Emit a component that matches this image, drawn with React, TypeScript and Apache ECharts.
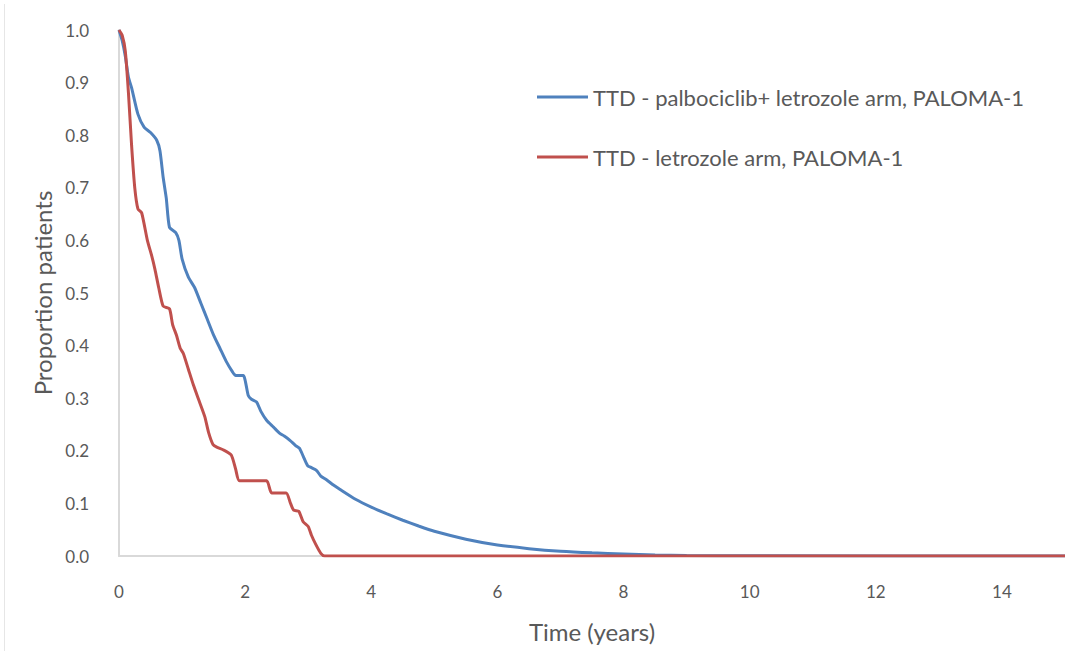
import React, { useEffect, useRef } from "react";
import * as echarts from "echarts";

const seriesNames = [
  "TTD - palbociclib+ letrozole arm, PALOMA-1",
  "TTD - letrozole arm, PALOMA-1",
];

// [time (years), proportion]
const palbociclibArm: [number, number][] = [
  [0, 1.0], [0.05, 0.98], [0.1, 0.95], [0.15, 0.91], [0.2, 0.89], [0.3, 0.84],
  [0.4, 0.815], [0.5, 0.805], [0.6, 0.79], [0.65, 0.77], [0.7, 0.72], [0.75, 0.68],
  [0.8, 0.625], [0.9, 0.615], [0.95, 0.6], [1.0, 0.565], [1.1, 0.53], [1.2, 0.51],
  [1.3, 0.48], [1.4, 0.45], [1.5, 0.42], [1.6, 0.395], [1.7, 0.37], [1.8, 0.35],
  [1.85, 0.343], [1.97, 0.343], [2.05, 0.305], [2.1, 0.298], [2.18, 0.293],
  [2.25, 0.275], [2.34, 0.258], [2.45, 0.245], [2.55, 0.233], [2.62, 0.228],
  [2.71, 0.22], [2.8, 0.21], [2.86, 0.205], [2.92, 0.19], [2.99, 0.172],
  [3.05, 0.168], [3.13, 0.163], [3.2, 0.152], [3.29, 0.145], [3.4, 0.135],
  [3.5, 0.127], [3.75, 0.108], [4.0, 0.093], [4.25, 0.08], [4.5, 0.068],
  [4.75, 0.057], [5.0, 0.047], [5.5, 0.032], [6.0, 0.021], [6.5, 0.014],
  [7.0, 0.009], [7.5, 0.006], [8.0, 0.004], [8.5, 0.002], [9.0, 0.001],
  [10.0, 0.0005], [15.0, 0],
];

const letrozoleArm: [number, number][] = [
  [0, 1.0], [0.05, 0.99], [0.1, 0.96], [0.15, 0.88], [0.2, 0.78], [0.25, 0.7],
  [0.3, 0.66], [0.36, 0.652], [0.45, 0.6], [0.52, 0.57], [0.57, 0.545],
  [0.63, 0.51], [0.7, 0.475], [0.8, 0.47], [0.85, 0.44], [0.91, 0.42],
  [0.97, 0.395], [1.02, 0.385], [1.1, 0.355], [1.18, 0.325], [1.27, 0.295],
  [1.36, 0.265], [1.42, 0.235], [1.49, 0.212], [1.55, 0.207], [1.65, 0.202],
  [1.78, 0.192], [1.85, 0.165], [1.91, 0.143], [2.34, 0.143], [2.42, 0.12],
  [2.65, 0.12], [2.72, 0.1], [2.77, 0.087], [2.85, 0.085], [2.92, 0.065],
  [3.0, 0.056], [3.05, 0.04], [3.12, 0.022], [3.2, 0.005], [3.26, 0.0], [15.0, 0],
];

const xMin = 0;
const xMax = 15;
const xInterval = 2;
const yMin = 0;
const yMax = 1;
const yInterval = 0.1;

const xAxisName = "Time (years)";
const yAxisName = "Proportion patients";

const FONT = "Lato, 'Noto Sans', sans-serif";
const TEXT_COLOR = "#595959";
const AXIS_COLOR = "#d9d9d9";
const COLORS = ["#4f81bd", "#c0504d"];

export default function App() {
  const ref = useRef<HTMLDivElement>(null);

  useEffect(() => {
    document.body.style.margin = "0";
    if (!ref.current) return;
    const chart = echarts.init(ref.current, null, { renderer: "svg" });
    chart.setOption({
      animation: false,
      backgroundColor: "#ffffff",
      grid: { left: 119, right: 0, top: 30, bottom: 95, containLabel: false },
      legend: {
        orient: "vertical",
        left: 537,
        top: 86,
        padding: 0,
        icon: "rect",
        itemWidth: 51,
        itemHeight: 3,
        itemGap: 38,
        data: seriesNames,
        textStyle: { fontFamily: FONT, fontSize: 22, color: TEXT_COLOR, lineHeight: 22 },
      },
      xAxis: {
        type: "value",
        min: xMin,
        max: xMax,
        interval: xInterval,
        name: xAxisName,
        nameLocation: "middle",
        nameGap: 63,
        nameTextStyle: { fontFamily: FONT, fontSize: 24, color: TEXT_COLOR },
        axisLine: { show: true, onZero: false, lineStyle: { color: AXIS_COLOR, width: 2 } },
        axisTick: { show: false },
        splitLine: { show: false },
        axisLabel: {
          fontFamily: FONT,
          fontSize: 17,
          color: TEXT_COLOR,
          margin: 27,
          showMaxLabel: false,
        },
      },
      yAxis: {
        type: "value",
        min: yMin,
        max: yMax,
        interval: yInterval,
        name: yAxisName,
        nameLocation: "middle",
        nameGap: 65,
        nameTextStyle: { fontFamily: FONT, fontSize: 24, color: TEXT_COLOR },
        axisLine: { show: true, lineStyle: { color: AXIS_COLOR, width: 2 } },
        axisTick: { show: false },
        splitLine: { show: false },
        axisLabel: {
          fontFamily: FONT,
          fontSize: 17,
          color: TEXT_COLOR,
          margin: 30,
          formatter: (v: number) => v.toFixed(1),
        },
      },
      graphic: [
        {
          type: "line",
          shape: { x1: 4.5, y1: 4, x2: 4.5, y2: 651 },
          style: { stroke: "#e6e6e6", lineWidth: 1 },
        },
      ],
      series: [
        {
          name: seriesNames[0],
          type: "line",
          data: palbociclibArm,
          symbol: "none",
          smooth: 0.2,
          lineStyle: { color: COLORS[0], width: 3 },
          itemStyle: { color: COLORS[0] },
        },
        {
          name: seriesNames[1],
          type: "line",
          data: letrozoleArm,
          symbol: "none",
          smooth: 0.2,
          lineStyle: { color: COLORS[1], width: 3 },
          itemStyle: { color: COLORS[1] },
        },
      ],
    });
    return () => chart.dispose();
  }, []);

  return <div ref={ref} style={{ width: 1065, height: 651 }} />;
}
